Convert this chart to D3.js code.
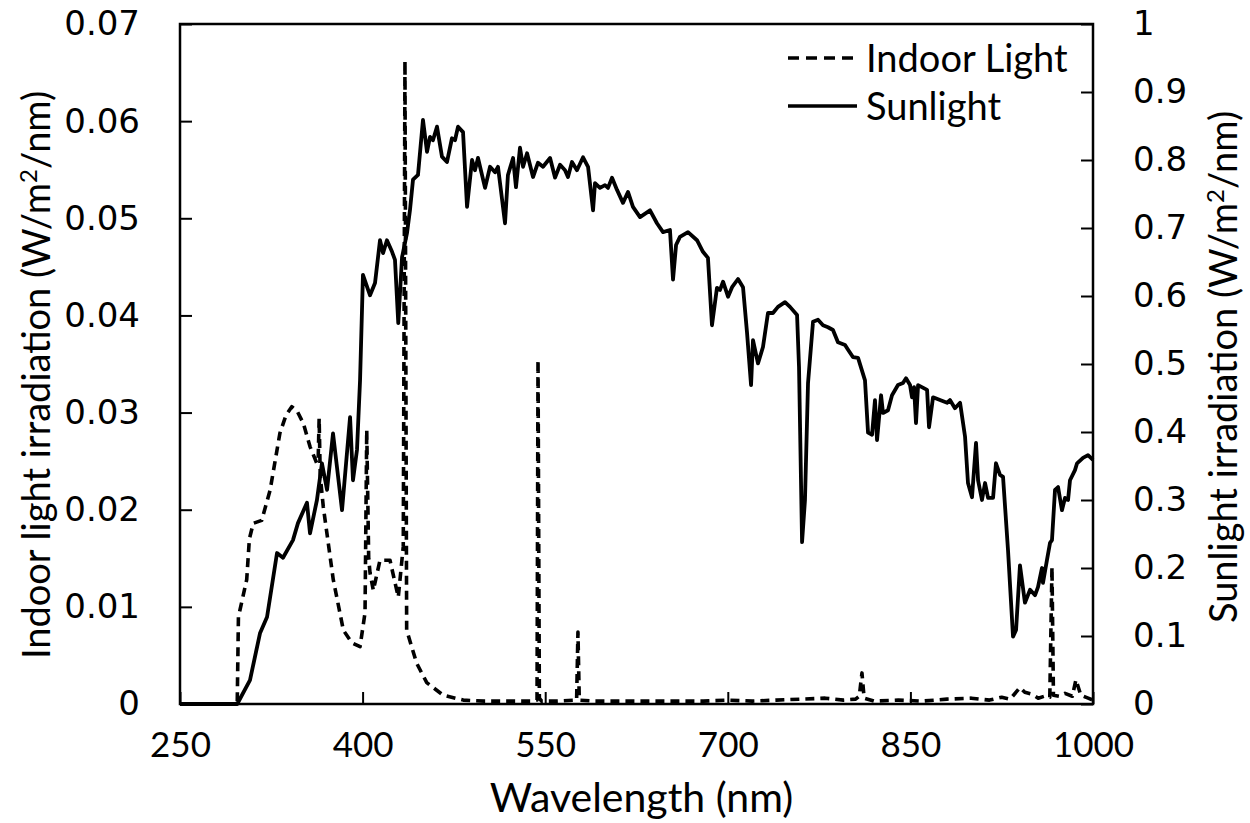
<!DOCTYPE html>
<html lang="en">
<head>
<meta charset="UTF-8">
<title>Indoor light vs sunlight spectrum</title>
<script src="https://d3js.org/d3.v7.min.js"></script>
<style>
  body { margin: 0; background: #fff; }
  .frame { fill: none; stroke: #000; stroke-width: 2.5px; }
  .axis text { fill: #000; }
  .axis line { stroke: #000; stroke-width: 2px; }
  .tickY text { font-family: "DejaVu Sans", sans-serif; font-size: 34px; }
  .tickX text { font-family: Lato, "Open Sans", sans-serif; font-size: 35px; }
  .title { font-family: Lato, "Open Sans", sans-serif; font-size: 38px; fill: #000; }
  .legend text { font-family: Lato, "Open Sans", sans-serif; font-size: 38px; fill: #000; }
  .line { fill: none; stroke: #000; stroke-linejoin: round; }
</style>
</head>
<body>
<svg id="chart" width="1250" height="823"></svg>
<script>
// wavelength (nm) / irradiance (W/m2/nm)
const indoorLight = [
  [250,0],[297,0],[298,0.009],[299.3,0.0097],[304.8,0.0128],[307,0.017],[310.2,0.0186],[317.1,0.0189],
  [324,0.022],[332.1,0.0279],[337,0.0297],[341.8,0.0306],[346,0.0302],[351.3,0.0289],[356.8,0.0265],
  [362.3,0.0248],[363.5,0.0252],[364.3,0.0294],[365.2,0.0235],[367.7,0.0203],[375.9,0.0128],[384.2,0.0076],
  [391.1,0.0063],[397.9,0.0059],[402,0.0094],[403.4,0.0282],[405,0.015],[406.1,0.0135],[408.8,0.0117],
  [414.3,0.0148],[422.5,0.0148],[429.3,0.011],[433.4,0.0162],[434.8,0.0662],[436.2,0.0076],[444.4,0.0042],
  [452.7,0.0022],[466.3,0.0009],[482.7,0.0004],[500,0.0003],[520,0.0003],[540,0.0003],[543.3,0.0004],
  [544.1,0.0354],[545.2,0.0006],[547,0.0003],[560,0.0003],[575.8,0.0004],[576.9,0.0074],[578,0.0004],
  [590,0.0003],[620,0.0003],[650,0.0003],[680,0.0003],[700,0.0004],[720,0.0003],[740,0.0004],[760,0.0005],
  [780,0.0006],[795,0.0004],[805,0.0005],[808,0.0008],[810.2,0.0032],[812,0.0006],[820,0.0003],[840,0.0004],
  [860,0.0003],[880,0.0005],[900,0.0006],[915,0.0004],[925,0.0007],[932,0.0005],[940,0.0017],[944,0.0012],
  [950,0.001],[955,0.0006],[960,0.0008],[964.5,0.0007],[966.3,0.0141],[967.5,0.0009],[972,0.0008],
  [977,0.0011],[983,0.0008],[986,0.0025],[990,0.0009],[996,0.0006],[1000,0.0004]
];

const sunlight = [
  [250,0],[297,0],[307.5,0.035],[315.7,0.104],[321.5,0.128],[329.7,0.222],[334.6,0.215],[342.8,0.241],
  [346.9,0.266],[354.3,0.296],[356.8,0.251],[362.5,0.3],[366.6,0.354],[370.8,0.315],[375.7,0.398],
  [383.1,0.285],[389.7,0.422],[392.1,0.329],[395.4,0.374],[397.9,0.476],[400.3,0.631],[406.1,0.601],
  [410.2,0.619],[414.3,0.682],[416.8,0.663],[420,0.682],[424.2,0.665],[426.6,0.653],[429.3,0.56],
  [432.4,0.657],[436.5,0.693],[438.9,0.726],[441.4,0.771],[445.5,0.778],[449.6,0.859],[452.9,0.812],
  [455.4,0.834],[457.8,0.829],[461.1,0.849],[465.2,0.805],[469.3,0.797],[473.4,0.832],[475.9,0.829],
  [478.4,0.849],[482.5,0.841],[485.8,0.731],[489.9,0.8],[492.3,0.785],[494.8,0.803],[500.6,0.759],
  [504.7,0.79],[508.8,0.782],[511.2,0.79],[512.9,0.766],[517,0.707],[519.4,0.778],[523.6,0.803],
  [526,0.76],[529.3,0.818],[531.8,0.79],[535.1,0.81],[540,0.775],[544.1,0.796],[548.2,0.79],[554,0.803],
  [558.1,0.774],[562.2,0.793],[566.3,0.785],[568.7,0.775],[572,0.797],[576.1,0.785],[581.1,0.804],
  [585.2,0.79],[589.3,0.726],[590.9,0.766],[595,0.759],[599.1,0.763],[601.6,0.759],[604.9,0.774],
  [609,0.756],[613.9,0.737],[618,0.753],[622.1,0.731],[627.9,0.716],[636.1,0.726],[641.8,0.707],
  [646.8,0.694],[652.5,0.697],[655,0.624],[657.5,0.675],[660.7,0.687],[667.3,0.694],[674.7,0.682],
  [679.6,0.665],[683.7,0.656],[687,0.557],[691.1,0.612],[693.6,0.609],[696.1,0.621],[700.2,0.599],
  [703.5,0.613],[708.4,0.625],[712.5,0.613],[715.8,0.546],[719.1,0.469],[720.7,0.535],[724.8,0.501],
  [728.9,0.525],[733,0.575],[737.1,0.575],[741.2,0.584],[747,0.591],[751.1,0.584],[756.9,0.572],
  [758.5,0.496],[761,0.238],[763.4,0.3],[765.9,0.472],[770,0.562],[774.1,0.565],[778.2,0.557],
  [782.3,0.554],[786.4,0.55],[790.5,0.532],[796.3,0.528],[798.8,0.521],[802.9,0.51],[807,0.509],
  [812.7,0.476],[815.2,0.399],[818.5,0.396],[820.9,0.447],[822.6,0.388],[825.9,0.454],[827.5,0.428],
  [831.6,0.432],[834.9,0.454],[839.8,0.469],[843.9,0.472],[846.4,0.479],[849.7,0.469],[851.3,0.451],
  [853,0.466],[854.6,0.413],[856.3,0.469],[863.7,0.462],[865.3,0.407],[868.6,0.451],[874.3,0.447],
  [880.1,0.443],[882.5,0.447],[886.6,0.435],[890.8,0.443],[894.9,0.393],[897.3,0.325],[900.6,0.304],
  [903.9,0.384],[905.6,0.329],[908.8,0.3],[911.3,0.325],[913.8,0.303],[917.9,0.303],[920.3,0.354],
  [923.6,0.337],[926.1,0.334],[930.2,0.226],[934.3,0.099],[936.8,0.109],[940,0.204],[944.1,0.149],
  [948.3,0.168],[952.4,0.16],[954.8,0.172],[958.1,0.2],[958.9,0.178],[962.2,0.212],[964.7,0.237],
  [966.3,0.241],[968.8,0.315],[971.3,0.319],[974.5,0.285],[977,0.303],[979.5,0.3],[981.1,0.329],
  [985.2,0.344],[986.9,0.354],[991.8,0.362],[995.9,0.366],[1000,0.359]
];

const xTicks = [250, 400, 550, 700, 850, 1000];
const leftTicks = [0, 0.01, 0.02, 0.03, 0.04, 0.05, 0.06, 0.07];
const rightTicks = [0, 0.1, 0.2, 0.3, 0.4, 0.5, 0.6, 0.7, 0.8, 0.9, 1];

const svg = d3.select("#chart");
const margin = {top: 24, right: 157, bottom: 119, left: 180};
const width = 1250 - margin.left - margin.right;
const height = 823 - margin.top - margin.bottom;

const g = svg.append("g").attr("transform", `translate(${margin.left},${margin.top})`);

const x = d3.scaleLinear().domain([250, 1000]).range([0, width]);
const yLeft = d3.scaleLinear().domain([0, 0.07]).range([height, 0]);
const yRight = d3.scaleLinear().domain([0, 1]).range([height, 0]);

// axes, ticks pointing into the plot
const fmtLeft = d => d === 0 ? "0" : d3.format(".2f")(d);
const fmtRight = d => d === 0 ? "0" : (d === 1 ? "1" : d3.format(".1f")(d));

g.append("g").attr("class", "axis tickY")
  .call(d3.axisLeft(yLeft).tickValues(leftTicks).tickFormat(fmtLeft).tickSizeInner(-12).tickSizeOuter(0).tickPadding(40))
  .call(a => a.select(".domain").remove());

g.append("g").attr("class", "axis tickY")
  .attr("transform", `translate(${width},0)`)
  .call(d3.axisRight(yRight).tickValues(rightTicks).tickFormat(fmtRight).tickSizeInner(-12).tickSizeOuter(0).tickPadding(40))
  .call(a => a.select(".domain").remove());

g.append("g").attr("class", "axis tickX")
  .attr("transform", `translate(0,${height})`)
  .call(d3.axisBottom(x).tickValues(xTicks).tickFormat(d3.format("d")).tickSizeInner(-12).tickSizeOuter(0).tickPadding(28))
  .call(a => a.select(".domain").remove());

// series
const lineL = d3.line().x(d => x(d[0])).y(d => yLeft(d[1]));
const lineR = d3.line().x(d => x(d[0])).y(d => yRight(d[1]));

g.append("path").datum(sunlight)
  .attr("class", "line")
  .attr("stroke-width", 3.8)
  .attr("d", lineR);

g.append("path").datum(indoorLight)
  .attr("class", "line")
  .attr("stroke-width", 3.6)
  .attr("stroke-dasharray", "9,6")
  .attr("d", lineL);

g.append("rect").attr("class", "frame")
  .attr("width", width).attr("height", height);

// axis titles
svg.append("text").attr("class", "title")
  .attr("x", margin.left + width / 2 + 5).attr("y", 812)
  .attr("text-anchor", "middle")
  .style("font-size", "41px")
  .text("Wavelength (nm)");

function unitTitle(label, tx, ty) {
  const t = svg.append("text").attr("class", "title")
    .attr("text-anchor", "middle")
    .attr("transform", `translate(${tx},${ty}) rotate(-90)`);
  t.append("tspan").text(label + " (W/m");
  t.append("tspan").attr("font-size", "24px").attr("dy", "-13").text("2");
  t.append("tspan").attr("dy", "13").text("/nm)");
}
unitTitle("Indoor  light irradiation", 50, 375);
unitTitle("Sunlight irradiation", 1237, 367);

// legend
const legend = svg.append("g").attr("class", "legend");
const legendItems = [
  {label: "Indoor Light", dash: "11,7", y: 58},
  {label: "Sunlight", dash: null, y: 106}
];
legendItems.forEach(it => {
  legend.append("line")
    .attr("x1", 788).attr("x2", 857).attr("y1", it.y).attr("y2", it.y)
    .attr("stroke", "#000").attr("stroke-width", 3.5)
    .attr("stroke-dasharray", it.dash);
  legend.append("text")
    .attr("x", 866).attr("y", it.y + 14)
    .text(it.label);
});
</script>
</body>
</html>
